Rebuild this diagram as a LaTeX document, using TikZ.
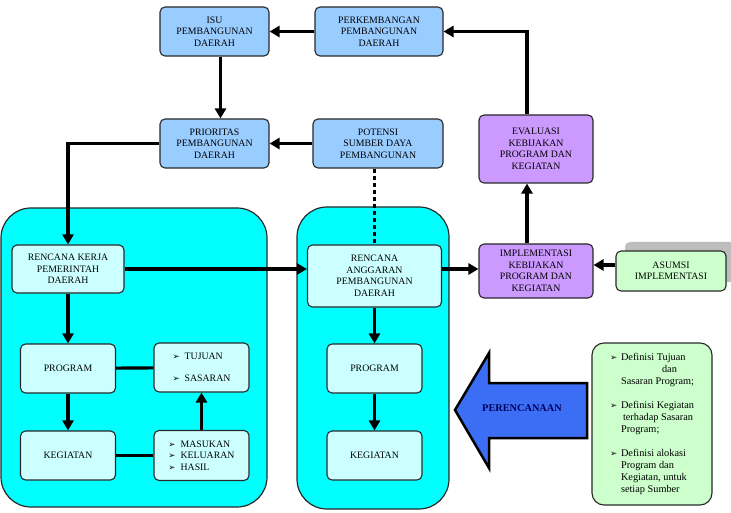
\documentclass[tikz,border=0pt]{standalone}
\usepackage{fontspec}
\setmainfont{Liberation Serif}
\newfontfamily\symfont{DejaVu Sans}
\usepackage{tikz}
\usetikzlibrary{shapes,arrows.meta,positioning,shadows}

\definecolor{boxblue}{RGB}{153,204,255}
\definecolor{boxpurple}{RGB}{204,153,255}
\definecolor{boxgreen}{RGB}{204,255,204}
\definecolor{boxcyan}{RGB}{204,255,255}
\definecolor{panelcyan}{RGB}{0,255,255}
\definecolor{boxline}{RGB}{40,40,40}
\definecolor{arrowblue}{RGB}{60,110,245}
\definecolor{labelnavy}{RGB}{0,0,90}
\definecolor{shadowgray}{RGB}{190,190,190}

\newcommand{\pointer}{{\symfont\fontsize{8.5}{8.5}\selectfont ➢}}

\begin{document}
\begin{tikzpicture}[
    x=1pt, y=-1pt,
    node distance=112pt,
    thick,
    basebox/.style={rectangle, rounded corners=5pt, draw=boxline, line width=1.1pt, align=center, inner sep=2pt, font=\fontsize{9.8}{11.5}\selectfont},
    bluebox/.style={basebox, fill=boxblue, minimum height=49pt},
    purplebox/.style={basebox, fill=boxpurple, minimum width=114pt},
    cyanbox/.style={basebox, fill=boxcyan, minimum width=95pt, minimum height=49pt},
    greenbox/.style={basebox, fill=boxgreen},
    panel/.style={rounded corners=30pt, fill=panelcyan, draw=boxline, line width=1.2pt},
    arrow/.style={line width=3.2pt, -{Triangle[length=10pt,width=11pt]}},
    link/.style={line width=3.2pt},
    dotline/.style={line width=3.2pt, dash pattern=on 4pt off 3pt}
]
\useasboundingbox (0,0) rectangle (731,513);
% Panels
\draw[panel] (1,208) rectangle (267,507);
\draw[panel] (297,207) rectangle (449,509);
% Top row
\node[bluebox, minimum width=109pt] at (214.5,31.5) (isu) {ISU\\PEMBANGUNAN\\DAERAH};
\node[bluebox, minimum width=128pt, right of=isu, node distance=164.5pt] (perkembangan) {PERKEMBANGAN\\PEMBANGUNAN\\DAERAH};
% Second row
\node[bluebox, minimum width=109pt, below of=isu] (prioritas) {PRIORITAS\\PEMBANGUNAN\\DAERAH};
\node[bluebox, minimum width=130pt, right of=prioritas, node distance=163.5pt] (potensi) {POTENSI\\SUMBER DAYA\\PEMBANGUNAN};
% Evaluation and implementation
\node[purplebox, minimum height=68pt, right of=potensi, node distance=158pt, yshift=-5.5pt] (evaluasi) {EVALUASI\\KEBIJAKAN\\PROGRAM DAN\\KEGIATAN};
\node[purplebox, minimum height=54pt, below of=evaluasi, node distance=122pt] (implementasi) {IMPLEMENTASI\\KEBIJAKAN\\PROGRAM DAN\\KEGIATAN};
\node[greenbox, minimum width=110pt, minimum height=40pt, right of=implementasi, node distance=135pt,
      drop shadow={shadow xshift=9pt, shadow yshift=9pt, fill=shadowgray, opacity=1}] (asumsi) {ASUMSI\\IMPLEMENTASI};
% Left panel
\node[cyanbox, minimum width=112pt, minimum height=48pt, below of=prioritas, node distance=125.5pt, xshift=-146.5pt] (rkpd) {RENCANA KERJA\\PEMERINTAH\\DAERAH};
\node[cyanbox, below of=rkpd, node distance=99.5pt] (program_rkpd) {PROGRAM};
\node[cyanbox, below of=program_rkpd, node distance=87pt] (kegiatan_rkpd) {KEGIATAN};
\node[cyanbox, align=left, right of=program_rkpd, node distance=133.5pt, yshift=1pt] (tujuan) {\pointer\hspace{5pt}TUJUAN\\[10pt]\pointer\hspace{5pt}SASARAN};
\node[cyanbox, align=left, minimum height=50pt, right of=kegiatan_rkpd, node distance=133.5pt] (masukan) {\pointer\hspace{5pt}MASUKAN\\\pointer\hspace{5pt}KELUARAN\\\pointer\hspace{5pt}HASIL};
% Middle panel
\node[cyanbox, minimum width=134pt, minimum height=62pt, right of=rkpd, node distance=306.5pt, yshift=-7pt] (rapbd) {RENCANA\\ANGGARAN\\PEMBANGUNAN\\DAERAH};
\node[cyanbox, below of=rapbd, node distance=92.5pt] (program_rapbd) {PROGRAM};
\node[cyanbox, below of=program_rapbd, node distance=87pt] (kegiatan_rapbd) {KEGIATAN};
% Planning definitions
\node[greenbox, rounded corners=12pt, minimum width=120pt, minimum height=162pt, align=left, font=\fontsize{10.3}{12}\selectfont,
      below of=asumsi, node distance=153pt, xshift=-19pt] (definisi)
    {\makebox[11pt][l]{\pointer}Definisi Tujuan\\
     \hspace*{52pt}dan\\
     \hspace*{11pt}Sasaran Program;\\[12pt]
     \makebox[11pt][l]{\pointer}Definisi Kegiatan\\
     \hspace*{13pt}terhadap Sasaran\\
     \hspace*{11pt}Program;\\[12pt]
     \makebox[11pt][l]{\pointer}Definisi alokasi\\
     \hspace*{11pt}Program dan\\
     \hspace*{11pt}Kegiatan, untuk\\
     \hspace*{11pt}setiap Sumber};
% Planning arrow
\draw[fill=arrowblue, draw=black, line width=2.5pt, line join=miter]
    (455,410) -- (489,353) -- (489,383) -- (587,383) -- (587,438) -- (489,438) -- (489,468) -- cycle;
\node[font=\fontsize{10.3}{12}\selectfont\bfseries, text=labelnavy] at (522,408) (perencanaan) {PERENCANAAN};
% Arrows
\draw[arrow] (perkembangan) -- (isu);
\draw[arrow] ([xshift=-9pt]evaluasi.north) |- (perkembangan);
\draw[arrow] ([xshift=6pt]isu.south) -- ([xshift=6pt]prioritas.north);
\draw[arrow] (potensi) -- (prioritas);
\draw[arrow] (prioritas) -| (rkpd);
\draw[dotline] (potensi.south -| rapbd.north) -- (rapbd.north);
\draw[arrow] (rkpd.east) -- (rkpd.east -| rapbd.west);
\draw[arrow] (rkpd.east -| rapbd.east) -- (rkpd.east -| implementasi.west);
\draw[arrow] ([xshift=-9pt]implementasi.north) -- ([xshift=-9pt]evaluasi.south);
\draw[arrow] ([yshift=6pt]asumsi.west) -- ([yshift=6pt]asumsi.west -| implementasi.east);
\draw[arrow] (rkpd) -- (program_rkpd);
\draw[arrow] (program_rkpd) -- (kegiatan_rkpd);
\draw[link] (program_rkpd) -- (tujuan);
\draw[link] (kegiatan_rkpd) -- (masukan);
\draw[arrow] (masukan) -- (tujuan);
\draw[arrow] (rapbd) -- (program_rapbd);
\draw[arrow] (program_rapbd) -- (kegiatan_rapbd);
\end{tikzpicture}
\end{document}
